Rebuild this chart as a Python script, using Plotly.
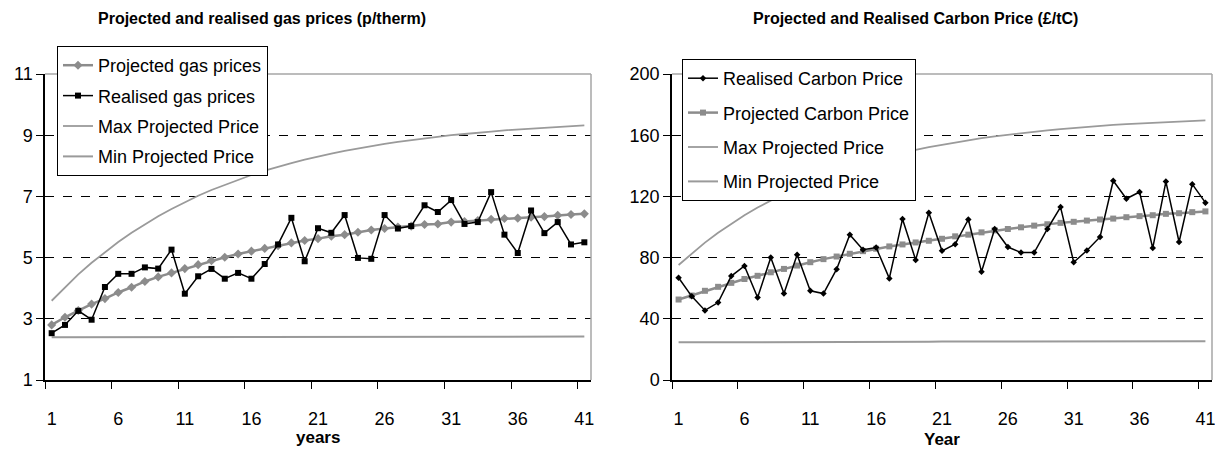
import plotly.graph_objects as go

years = list(range(1, 42))
x_tick_labels = [1, 6, 11, 16, 21, 26, 31, 36, 41]

# Left chart: gas prices (p/therm)
gas_projected = [2.80, 3.05, 3.27, 3.48, 3.66, 3.86, 4.03, 4.22, 4.37, 4.50,
                 4.64, 4.77, 4.90, 5.01, 5.12, 5.21, 5.30, 5.39, 5.48, 5.56,
                 5.62, 5.70, 5.75, 5.83, 5.90, 5.95, 6.00, 6.03, 6.08, 6.10,
                 6.16, 6.18, 6.21, 6.25, 6.28, 6.29, 6.32, 6.34, 6.38, 6.41, 6.43]
gas_realised = [2.53, 2.80, 3.26, 2.97, 4.04, 4.47, 4.47, 4.68, 4.64, 5.26,
                3.82, 4.39, 4.63, 4.31, 4.50, 4.31, 4.79, 5.43, 6.30, 4.88,
                5.96, 5.81, 6.39, 4.99, 4.96, 6.39, 5.95, 6.03, 6.71, 6.49,
                6.88, 6.10, 6.16, 7.14, 5.75, 5.15, 6.54, 5.80, 6.16, 5.43, 5.50]
gas_max = [3.59, 4.03, 4.45, 4.83, 5.18, 5.51, 5.81, 6.09, 6.35, 6.59,
           6.81, 7.02, 7.21, 7.38, 7.55, 7.70, 7.84, 7.97, 8.09, 8.20,
           8.31, 8.40, 8.49, 8.57, 8.65, 8.72, 8.78, 8.84, 8.90, 8.95,
           9.00, 9.04, 9.09, 9.12, 9.16, 9.19, 9.22, 9.25, 9.27, 9.30, 9.32]
gas_min = [2.40, 2.40, 2.40, 2.40, 2.40, 2.40, 2.40, 2.40, 2.40, 2.40,
           2.40, 2.41, 2.41, 2.41, 2.41, 2.41, 2.41, 2.41, 2.41, 2.41,
           2.41, 2.41, 2.41, 2.41, 2.41, 2.41, 2.41, 2.41, 2.41, 2.41,
           2.42, 2.42, 2.42, 2.42, 2.42, 2.42, 2.42, 2.42, 2.42, 2.42, 2.42]
gas_y_ticks = [1, 3, 5, 7, 9, 11]

# Right chart: carbon price (GBP/tC)
carbon_realised = [66.8, 54.7, 45.5, 50.6, 67.9, 74.5, 53.9, 80.0, 56.5, 81.8,
                   58.3, 56.5, 72.4, 95.0, 85.1, 86.6, 66.4, 105.2, 78.5, 109.3,
                   84.4, 88.8, 104.9, 70.8, 98.7, 86.9, 83.3, 83.3, 98.7, 113.0,
                   77.0, 84.6, 93.5, 130.2, 118.5, 122.9, 86.2, 129.7, 90.2, 128.0, 115.9]
carbon_projected = [52.6, 55.2, 58.3, 60.9, 63.5, 66.0, 68.1, 70.4, 72.6, 74.8,
                    77.0, 79.0, 80.7, 82.5, 84.2, 85.8, 87.3, 88.6, 89.9, 91.0,
                    92.3, 93.9, 95.0, 96.5, 97.8, 98.7, 99.8, 100.9, 101.8, 102.7,
                    103.4, 104.2, 104.9, 105.5, 106.4, 107.1, 107.7, 108.6, 109.0, 109.7, 110.2]
carbon_max = [75.2, 82.8, 89.8, 96.2, 102.2, 107.7, 112.7, 117.4, 121.8, 125.7,
              129.4, 132.8, 136.0, 138.9, 141.6, 144.0, 146.3, 148.4, 150.4, 152.2,
              153.8, 155.3, 156.8, 158.1, 159.3, 160.4, 161.4, 162.3, 163.2, 164.0,
              164.8, 165.5, 166.1, 166.7, 167.2, 167.7, 168.2, 168.6, 169.0, 169.3, 169.7]
carbon_min = [24.6, 24.6, 24.6, 24.7, 24.7, 24.7, 24.7, 24.8, 24.8, 24.8,
              24.8, 24.9, 24.9, 24.9, 24.9, 25.0, 25.0, 25.0, 25.0, 25.0,
              25.1, 25.1, 25.1, 25.1, 25.1, 25.2, 25.2, 25.2, 25.2, 25.2,
              25.3, 25.3, 25.3, 25.3, 25.3, 25.3, 25.4, 25.4, 25.4, 25.4, 25.4]
carbon_y_ticks = [0, 40, 80, 120, 160, 200]

FONT = "Liberation Sans, Arial, sans-serif"
GREY = "#8c8c8c"
LGREY = "#9a9a9a"

# page body margin compensation
OFF = 8
W, H = 1223 - OFF, 452 - OFF


def px(xp):
    return (xp - OFF) / W


def py(yp):
    return 1 - (yp - OFF) / H


fig = go.Figure()

# Left chart traces
fig.add_trace(go.Scatter(x=years, y=gas_max, mode="lines", name="Max Projected Price",
                         line=dict(color=LGREY, width=1.8), xaxis="x", yaxis="y", legend="legend",
                         legendrank=3, legendgroup="g3"))
fig.add_trace(go.Scatter(x=years, y=gas_min, mode="lines", name="Min Projected Price",
                         line=dict(color=LGREY, width=2), xaxis="x", yaxis="y", legend="legend",
                         legendrank=4, legendgroup="g4"))
fig.add_trace(go.Scatter(x=years, y=gas_projected, mode="lines+markers", name="Projected gas prices",
                         line=dict(color=GREY, width=2.5),
                         marker=dict(symbol="diamond", size=7, color=GREY),
                         xaxis="x", yaxis="y", legend="legend", legendrank=1, legendgroup="g1"))
fig.add_trace(go.Scatter(x=years, y=gas_realised, mode="lines+markers", name="Realised gas prices",
                         line=dict(color="black", width=1.5),
                         marker=dict(symbol="square", size=6, color="black"),
                         xaxis="x", yaxis="y", legend="legend", legendrank=2, legendgroup="g2"))

# Right chart traces
fig.add_trace(go.Scatter(x=years, y=carbon_max, mode="lines", name="Max Projected Price",
                         line=dict(color=LGREY, width=1.8), xaxis="x2", yaxis="y2", legend="legend2",
                         legendrank=3, legendgroup="c3"))
fig.add_trace(go.Scatter(x=years, y=carbon_min, mode="lines", name="Min Projected Price",
                         line=dict(color=LGREY, width=2), xaxis="x2", yaxis="y2", legend="legend2",
                         legendrank=4, legendgroup="c4"))
fig.add_trace(go.Scatter(x=years, y=carbon_projected, mode="lines+markers", name="Projected Carbon Price",
                         line=dict(color=GREY, width=2.5),
                         marker=dict(symbol="square", size=6, color=GREY),
                         xaxis="x2", yaxis="y2", legend="legend2", legendrank=2, legendgroup="c2"))
fig.add_trace(go.Scatter(x=years, y=carbon_realised, mode="lines+markers", name="Realised Carbon Price",
                         line=dict(color="black", width=1.5),
                         marker=dict(symbol="diamond", size=5, color="black"),
                         xaxis="x2", yaxis="y2", legend="legend2", legendrank=1, legendgroup="c1"))

ydom = [py(380), py(74)]

xaxis_common = dict(
    range=[0.5, 41.5], tickmode="array", tickvals=x_tick_labels, ticks="",
    showline=True, linecolor="black", linewidth=1.5, showgrid=False, zeroline=False,
    automargin=False,
    tickfont=dict(family=FONT, size=18, color="black"), ticklabelstandoff=22,
    minor=dict(tick0=0.5, dtick=5, ticks="outside", ticklen=7, tickcolor="black",
               tickwidth=1, showgrid=False),
)
yaxis_common = dict(
    tickmode="array", ticks="outside", ticklen=7, tickcolor="black", tickwidth=1,
    showline=True, linecolor="black", linewidth=1.5, zeroline=False, automargin=False,
    showgrid=True, gridcolor="black", griddash="dash", gridwidth=1,
    tickfont=dict(family=FONT, size=18, color="black"),
)

legend_common = dict(
    xanchor="left", yanchor="top", bgcolor="white", bordercolor="black", borderwidth=1,
    font=dict(family=FONT, size=18, color="black"), itemwidth=30, traceorder="grouped",
)

border = dict(color="#a6a6a6", width=1.5)

fig.update_layout(
    width=W, height=H,
    margin=dict(l=0, r=0, t=0, b=0),
    paper_bgcolor="white", plot_bgcolor="white",
    font=dict(family=FONT, color="black"),
    xaxis=dict(domain=[px(45), px(591)], anchor="y", **xaxis_common),
    yaxis=dict(domain=ydom, anchor="x", range=[1, 11], tickvals=gas_y_ticks, **yaxis_common),
    xaxis2=dict(domain=[px(672), px(1212)], anchor="y2", **xaxis_common),
    yaxis2=dict(domain=ydom, anchor="x2", range=[0, 200], tickvals=carbon_y_ticks, **yaxis_common),
    legend=dict(x=px(57), y=py(46), tracegroupgap=4, **legend_common),
    legend2=dict(x=px(682), y=py(59), tracegroupgap=8, **legend_common),
    shapes=[
        dict(type="line", xref="x domain", yref="y domain", x0=0, x1=1, y0=1, y1=1, line=border),
        dict(type="line", xref="x domain", yref="y domain", x0=1, x1=1, y0=0, y1=1, line=border),
        dict(type="line", xref="x2 domain", yref="y2 domain", x0=0, x1=1, y0=1, y1=1, line=border),
        dict(type="line", xref="x2 domain", yref="y2 domain", x0=1, x1=1, y0=0, y1=1, line=border),
    ],
    annotations=[
        dict(text="<b>Projected and realised gas prices (p/therm)</b>", xref="paper", yref="paper",
             x=px(262), y=py(19), xanchor="center", yanchor="middle", showarrow=False,
             font=dict(family=FONT, size=16, color="black")),
        dict(text="<b>Projected and Realised Carbon Price (£/tC)</b>", xref="paper", yref="paper",
             x=px(915), y=py(19), xanchor="center", yanchor="middle", showarrow=False,
             font=dict(family=FONT, size=16, color="black")),
        dict(text="<b>years</b>", xref="paper", yref="paper",
             x=px(318), y=py(437), xanchor="center", yanchor="middle", showarrow=False,
             font=dict(family=FONT, size=17, color="black")),
        dict(text="<b>Year</b>", xref="paper", yref="paper",
             x=px(942), y=py(439), xanchor="center", yanchor="middle", showarrow=False,
             font=dict(family=FONT, size=17, color="black")),
    ],
)

fig.write_html("out.html")
